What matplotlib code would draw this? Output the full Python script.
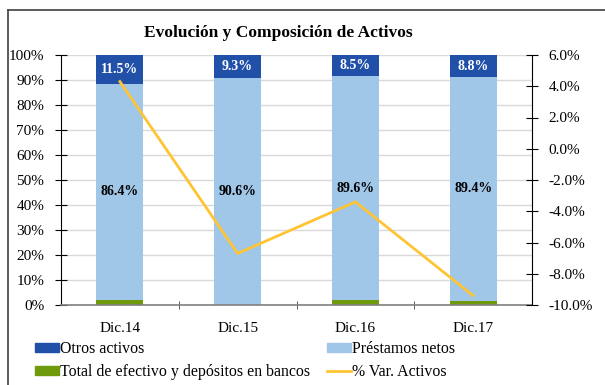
import numpy as np
import matplotlib.pyplot as plt
from matplotlib.patches import Patch
from matplotlib.lines import Line2D
from matplotlib.ticker import FuncFormatter, MultipleLocator

plt.rcParams['font.family'] = ['Liberation Serif', 'DejaVu Serif']

# Composition of assets (% of total) and yearly change in total assets
periodos = ['Dic.14', 'Dic.15', 'Dic.16', 'Dic.17']
efectivo = [2.1, 0.1, 1.9, 1.8]
prestamos = [86.4, 90.6, 89.6, 89.4]
otros = [11.5, 9.3, 8.5, 8.8]
var_activos = [4.3, -6.7, -3.4, -9.4]

c_otros = '#2150A8'
c_prest = '#A0C6E8'
c_efec = '#6E9A0C'
c_linea = '#FFC433'

fig = plt.figure(figsize=(6.05, 3.85), dpi=100)
ax = fig.add_axes([61 / 605, 80 / 385, 471 / 605, 250 / 385])

x = np.arange(len(periodos))
w = 0.4
ax.bar(x, efectivo, w, color=c_efec, zorder=2)
ax.bar(x, prestamos, w, bottom=efectivo, color=c_prest, zorder=2)
bottom_otros = np.array(efectivo) + np.array(prestamos)
ax.bar(x, otros, w, bottom=bottom_otros, color=c_otros, zorder=2)

for i in range(len(periodos)):
    ax.text(x[i], efectivo[i] + prestamos[i] / 2, f'{prestamos[i]:.1f}%', ha='center', va='center',
            fontsize=10, fontweight='bold', color='black', zorder=4)
    ax.text(x[i], bottom_otros[i] + otros[i] / 2, f'{otros[i]:.1f}%', ha='center', va='center',
            fontsize=10, fontweight='bold', color='white', zorder=4)

ax.set_xlim(-0.5, len(periodos) - 0.5)
ax.set_ylim(0, 100)
ax.yaxis.set_major_locator(MultipleLocator(10))
ax.yaxis.set_major_formatter(FuncFormatter(lambda v, p: f'{v:.0f}%'))
ax.grid(axis='y', color='#D9D9D9', linewidth=1, zorder=0)
ax.set_axisbelow(True)
ax.set_xticks(x)
ax.set_xticklabels(periodos)
ax.set_xticks(np.arange(0.5, len(periodos) - 0.5, 1), minor=True)
ax.tick_params(axis='x', which='major', length=0, labelsize=11, pad=12)
ax.tick_params(axis='x', which='minor', length=6, direction='inout', color='#404040')
ax.tick_params(axis='y', direction='inout', length=8, labelsize=11, pad=8)
for s in ['top', 'right']:
    ax.spines[s].set_visible(False)
ax.spines['bottom'].set_color('#808080')
ax.spines['bottom'].set_linewidth(1.2)
ax.spines['left'].set_color('black')

ax2 = ax.twinx()
ax2.plot(x, var_activos, color=c_linea, linewidth=2, zorder=3)
ax2.set_ylim(-10, 6)
ax2.yaxis.set_major_locator(MultipleLocator(2))
ax2.yaxis.set_major_formatter(FuncFormatter(lambda v, p: f'{v:.1f}%'))
ax2.tick_params(axis='y', direction='inout', length=8, labelsize=11, pad=8)
for s in ['top', 'left', 'bottom']:
    ax2.spines[s].set_visible(False)
ax2.spines['right'].set_color('black')

fig.text(278 / 605, 1 - 33 / 385, 'Evolución y Composición de Activos', ha='center', va='center',
         fontsize=12.5, fontweight='bold')

handles = [Patch(color=c_otros), Patch(color=c_efec), Patch(color=c_prest),
           Line2D([], [], color=c_linea, linewidth=2)]
labels = ['Otros activos', 'Total de efectivo y depósitos en bancos',
          'Préstamos netos', '% Var. Activos']
fig.legend(handles, labels, ncol=2, loc='upper left', bbox_to_anchor=(35 / 605, 1 - 341 / 385),
           frameon=False, fontsize=11.4, handlelength=1.5, handleheight=0.45,
           handletextpad=0.05, columnspacing=1.1, labelspacing=0.45, borderaxespad=0,
           borderpad=0)

# chart frame (only top and left edges fall inside the image)
fig.add_artist(Line2D([8 / 605, 1], [1 - 10 / 385, 1 - 10 / 385], color='#404040', linewidth=1.2))
fig.add_artist(Line2D([8 / 605, 8 / 605], [0, 1 - 10 / 385], color='#404040', linewidth=1.2))

fig.savefig('out.png', dpi=100)
